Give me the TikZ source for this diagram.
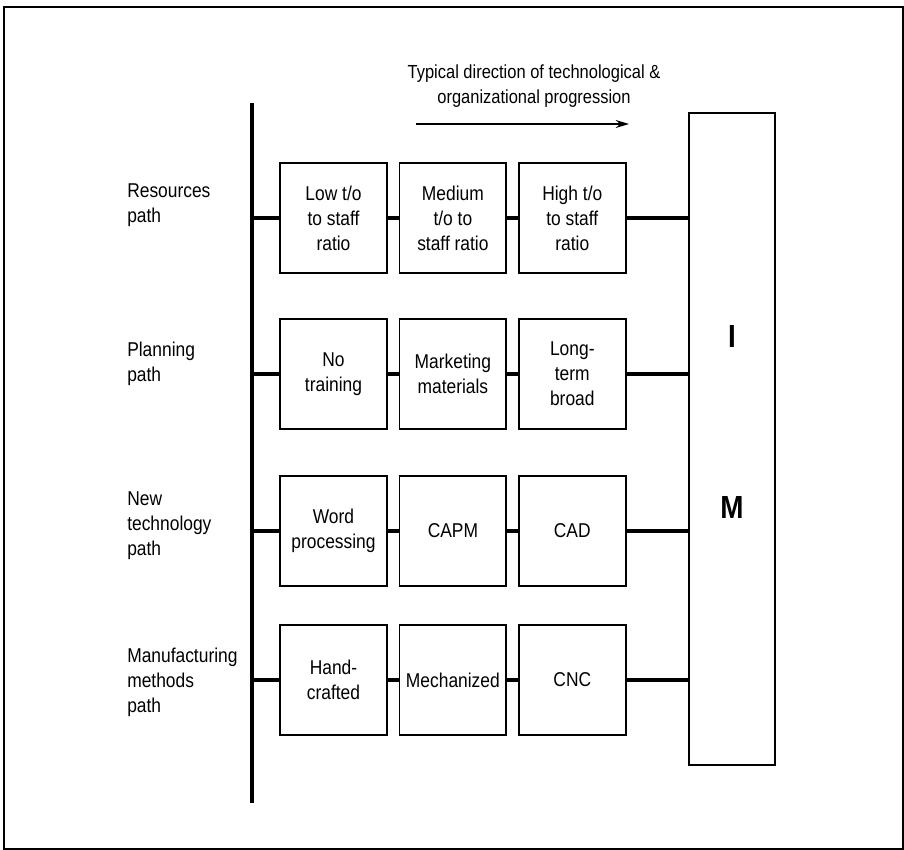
\documentclass[tikz,border=0pt]{standalone}
\usepackage{fontspec}
\setmainfont{Liberation Sans}[FakeStretch=0.87]
\usetikzlibrary{arrows.meta, positioning}

\begin{document}
\begin{tikzpicture}[x=0.75pt, y=-0.75pt,
  font=\fontsize{15}{18.7}\selectfont,
  pbox/.style={draw, line width=1.3pt, minimum width=80pt, minimum height=82pt,
    inner sep=0pt, align=center},
  link/.style={line width=3pt},
  pathlbl/.style={anchor=base west, align=left, inner sep=0pt},
  node distance=8.25pt]

  % frame
  \useasboundingbox (0,0) rectangle (904,850);
  \draw[line width=1.3pt] (4,7) rectangle (903,849);

  % heading and arrow
  \node[anchor=base, align=center, inner sep=0pt,
    font=\fontsize{14.2}{18.7}\selectfont] (title) at (534,103)
    {Typical direction of technological \&\\organizational progression};
  \coordinate (arrs) at (416,124);
  \coordinate (arre) at (629,124);
  \draw[line width=1pt, -{Stealth[length=10pt, width=6pt]}] (arrs) -- (arre);

  % spine
  \coordinate (sptop) at (252,103);
  \coordinate (spbot) at (252,803);
  \draw[line width=3pt] (sptop) -- (spbot);

  % I M box
  \node[draw, line width=1.3pt, minimum width=64pt, minimum height=489pt,
    inner sep=0pt] (im) at (732,439) {};
  \node[font=\fontsize{24}{28}\selectfont\bfseries, inner sep=0pt] (imi) at (732,336) {I};
  \node[font=\fontsize{24}{28}\selectfont\bfseries, inner sep=0pt] (imm) at (732,507) {M};

  % path labels (base = last line)
  \node[pathlbl] (lres) at (127,222) {Resources\\path};
  \node[pathlbl] (lplan) at (127,381) {Planning\\path};
  \node[pathlbl] (ltech) at (127,555) {New\\technology\\path};
  \node[pathlbl] (lman) at (127,712) {Manufacturing\\methods\\path};

  % boxes
  \node[pbox] (r1a) at (333.5,218) {Low t/o\\to staff\\ratio};
  \node[pbox, right=of r1a] (r1b) {Medium\\t/o to\\staff ratio};
  \node[pbox, right=of r1b] (r1c) {High t/o\\to staff\\ratio};

  \node[pbox] (r2a) at (333.5,374) {No\\training};
  \node[pbox, right=of r2a] (r2b) {Marketing\\materials};
  \node[pbox, right=of r2b] (r2c) {Long-\\term\\broad};

  \node[pbox] (r3a) at (333.5,531) {Word\\processing};
  \node[pbox, right=of r3a] (r3b) {CAPM};
  \node[pbox, right=of r3b] (r3c) {CAD};

  \node[pbox] (r4a) at (333.5,680) {Hand-\\crafted};
  \node[pbox, right=of r4a] (r4b) {Mechanized};
  \node[pbox, right=of r4b] (r4c) {CNC};

  % links
  \foreach \r in {1,...,4}{
    \draw[link] (r\r a.west -| sptop) -- (r\r a.west);
    \draw[link] (r\r a) -- (r\r b);
    \draw[link] (r\r b) -- (r\r c);
    \draw[link] (r\r c.east) -- (r\r c.east -| im.west);
  }

\end{tikzpicture}
\end{document}
